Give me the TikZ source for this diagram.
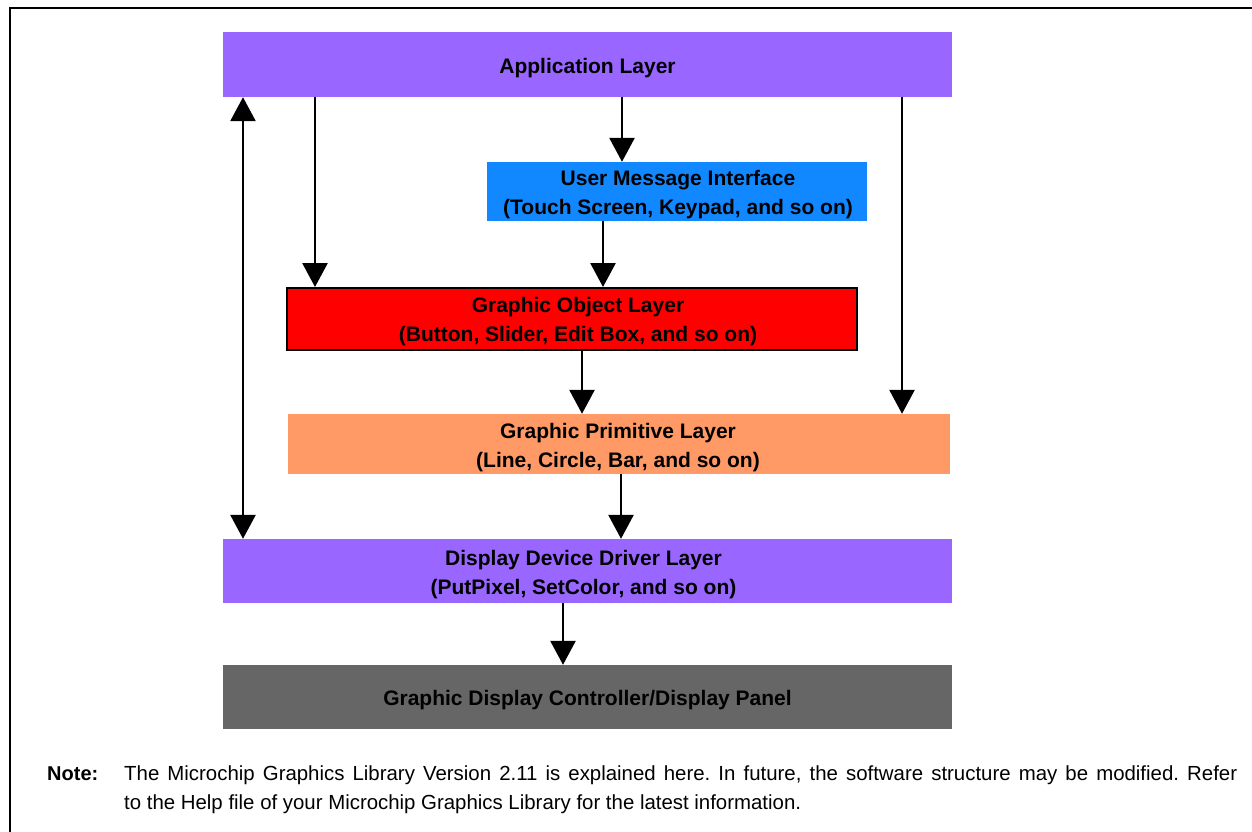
\documentclass[tikz,border=0pt]{standalone}
\usepackage{fontspec}
\setmainfont{Liberation Sans}
\usetikzlibrary{arrows.meta}
\frenchspacing
\definecolor{appviolet}{RGB}{153,102,255}
\definecolor{umiblue}{RGB}{17,136,255}
\definecolor{golred}{RGB}{255,0,0}
\definecolor{gplorange}{RGB}{255,153,102}
\definecolor{gdcgray}{RGB}{102,102,102}
\tikzset{
  layerbox/.style={inner sep=0pt},
  layertext/.style={inner sep=0pt, align=center, font=\fontsize{21}{29}\selectfont\bfseries},
  arr/.style={line width=2.7pt, -{Triangle[length=24pt,width=25pt]}},
  darr/.style={line width=2.7pt, {Triangle[length=24pt,width=25pt]}-{Triangle[length=24pt,width=25pt]}},
  notetext/.style={inner sep=0pt, anchor=base west, font=\fontsize{20.4}{29}\selectfont\frenchspacing},
}
\begin{document}
\begin{tikzpicture}[x=1pt,y=-1pt]
\useasboundingbox (0,0) rectangle (1252,831);
\draw[line width=2.5pt] (10,832) -- (10,8) -- (1253,8);

\node[layerbox, fill=appviolet, minimum width=729pt, minimum height=65pt] (app) at (587.5,64.5) {};
\node[layerbox, fill=umiblue, minimum width=380pt, minimum height=59pt] (umi) at (677,191.5) {};
\node[layerbox, fill=golred, draw=black, line width=2pt, minimum width=570pt, minimum height=62pt] (gol) at (572,319) {};
\node[layerbox, fill=gplorange, minimum width=662pt, minimum height=60pt] (gpl) at (619,444) {};
\node[layerbox, fill=appviolet, minimum width=729pt, minimum height=64pt] (ddd) at (587.5,571) {};
\node[layerbox, fill=gdcgray, minimum width=729pt, minimum height=64pt] (gdc) at (587.5,697) {};

\node[layertext] (appT) at ([yshift=-3.5pt]app.center) {Application Layer};
\node[layertext] (umiT) at ([xshift=1pt,yshift=-3.5pt]umi.center) {User Message Interface\\(Touch Screen, Keypad, and so on)};
\node[layertext] (golT) at ([xshift=6pt,yshift=-3pt]gol.center) {Graphic Object Layer\\(Button, Slider, Edit Box, and so on)};
\node[layertext] (gplT) at ([xshift=-1pt,yshift=-3.5pt]gpl.center) {Graphic Primitive Layer\\(Line, Circle, Bar, and so on)};
\node[layertext] (dddT) at ([xshift=-4pt,yshift=-3.5pt]ddd.center) {Display Device Driver Layer\\(PutPixel, SetColor, and so on)};
\node[layertext] (gdcT) at ([yshift=-3.5pt]gdc.center) {Graphic Display Controller/Display Panel};

\draw[darr] ([xshift=-344.5pt]app.south) -- ([xshift=-344.5pt]ddd.north);
\draw[arr] ([xshift=-272.5pt]app.south) -- ([xshift=-257pt]gol.north);
\draw[arr] ([xshift=34.5pt]app.south) -- ([xshift=-55pt]umi.north);
\draw[arr] ([xshift=314.5pt]app.south) -- ([xshift=283pt]gpl.north);
\draw[arr] ([xshift=-74pt]umi.south) -- ([xshift=31pt]gol.north);
\draw[arr] ([xshift=10pt]gol.south) -- ([xshift=-37pt]gpl.north);
\draw[arr] ([xshift=2pt]gpl.south) -- ([xshift=33.5pt]ddd.north);
\draw[arr] ([xshift=-24.5pt]ddd.south) -- ([xshift=-24.5pt]gdc.north);

\node[notetext, font=\fontsize{20}{29}\selectfont\bfseries] (note) at (47,780) {Note:};
\node[notetext] (noteA) at (124,780) {\makebox[1113pt][s]{The Microchip Graphics Library Version 2.11 is explained here. In future, the software structure may be modified. Refer}};
\node[notetext] (noteB) at (124,809) {to the Help file of your Microchip Graphics Library for the latest information.};
\end{tikzpicture}
\end{document}
